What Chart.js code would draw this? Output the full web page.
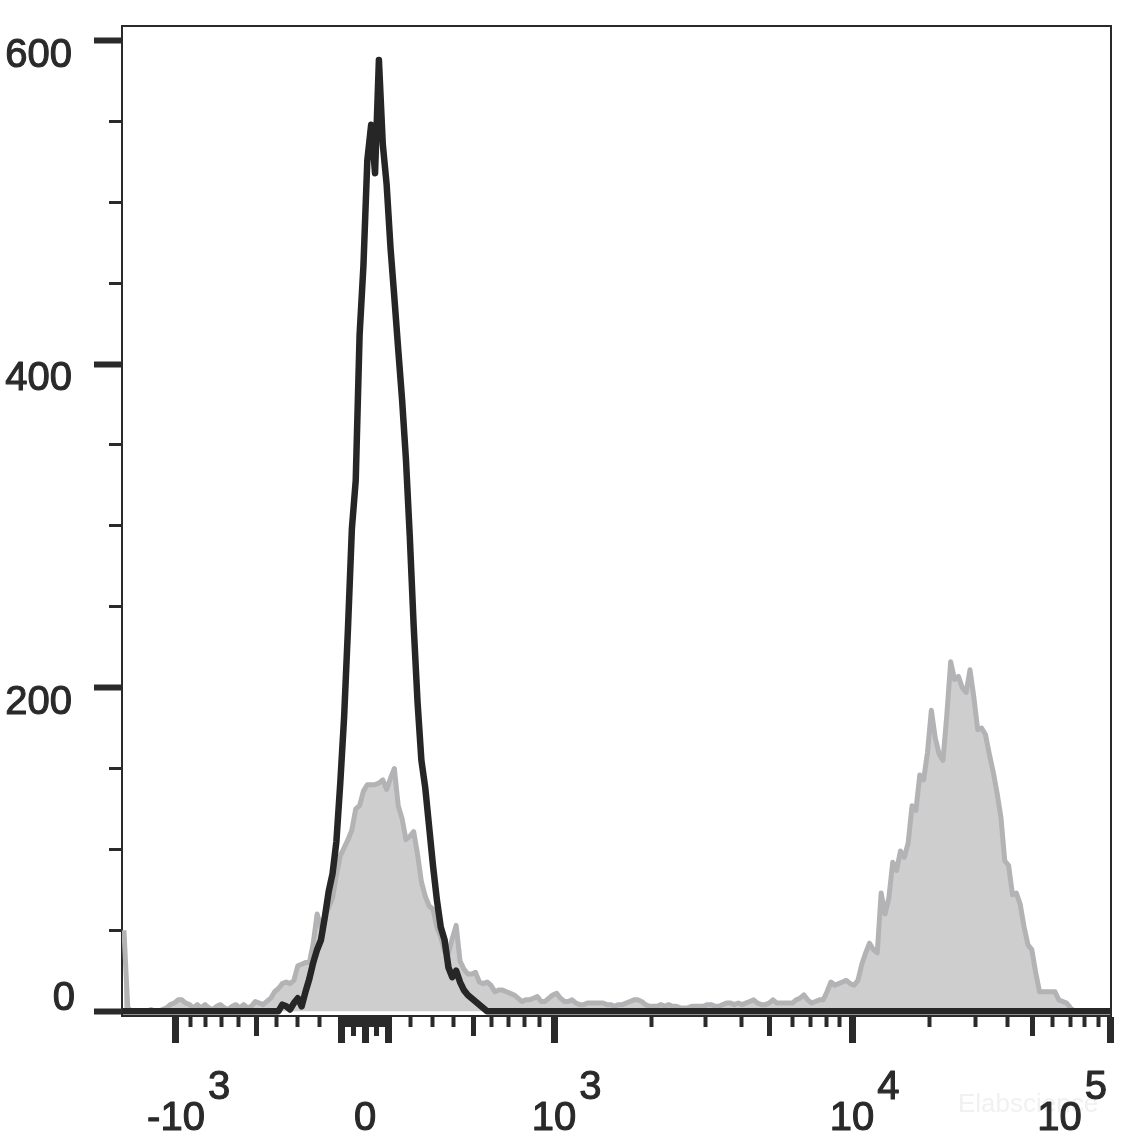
<!DOCTYPE html>
<html>
<head>
<meta charset="utf-8">
<script src="https://cdn.jsdelivr.net/npm/chart.js@4.4.1/dist/chart.umd.min.js"></script>
<style>
  html, body { margin: 0; padding: 0; background: #fff; }
</style>
</head>
<body>
<canvas id="histChart" width="1139" height="1140"></canvas>
<script>
// 256 histogram channels across the biexponential axis
const channels = Array.from({ length: 256 }, (_, i) => i);

const controlCounts = [
  0, 0, 0, 0, 0, 0, 0, 0, 0, 0, 0, 0, 0, 0, 0, 0,
  0, 0, 0, 0, 0, 0, 0, 0, 0, 0, 0, 0, 0, 0, 0, 0,
  0, 0, 0, 0, 0, 0, 0, 0, 0, 4, 3, 1, 5, 8, 3, 12,
  20, 30, 38, 44, 58, 74, 85, 105, 141, 182, 237, 298, 328, 418, 461, 526,
  548, 518, 588, 536, 511, 472, 441, 409, 378, 341, 293, 238, 191, 155, 138, 114,
  90, 69, 52, 44, 27, 21, 25, 18, 13, 10, 8, 6, 4, 2, 0, 0,
  0, 0, 0, 0, 0, 0, 0, 0, 0, 0, 0, 0, 0, 0, 0, 0,
  0, 0, 0, 0, 0, 0, 0, 0, 0, 0, 0, 0, 0, 0, 0, 0,
  0, 0, 0, 0, 0, 0, 0, 0, 0, 0, 0, 0, 0, 0, 0, 0,
  0, 0, 0, 0, 0, 0, 0, 0, 0, 0, 0, 0, 0, 0, 0, 0,
  0, 0, 0, 0, 0, 0, 0, 0, 0, 0, 0, 0, 0, 0, 0, 0,
  0, 0, 0, 0, 0, 0, 0, 0, 0, 0, 0, 0, 0, 0, 0, 0,
  0, 0, 0, 0, 0, 0, 0, 0, 0, 0, 0, 0, 0, 0, 0, 0,
  0, 0, 0, 0, 0, 0, 0, 0, 0, 0, 0, 0, 0, 0, 0, 0,
  0, 0, 0, 0, 0, 0, 0, 0, 0, 0, 0, 0, 0, 0, 0, 0,
  0, 0, 0, 0, 0, 0, 0, 0, 0, 0, 0, 0, 0, 0, 0, 0
];

const stainedCounts = [
  50, 2, 0, 0, 0, 0, 0, 1, 0, 0, 1, 2, 4, 5, 7, 7,
  5, 4, 2, 4, 2, 4, 2, 1, 3, 4, 2, 1, 3, 4, 2, 4,
  2, 3, 6, 5, 4, 6, 8, 12, 14, 17, 18, 17, 19, 28, 29, 30,
  30, 42, 60, 52, 59, 64, 70, 84, 96, 101, 106, 112, 125, 127, 136, 140,
  140, 140, 141, 143, 137, 144, 150, 127, 119, 106, 108, 111, 97, 80, 71, 65,
  63, 52, 46, 37, 36, 45, 53, 31, 26, 23, 23, 24, 18, 17, 18, 16,
  12, 13, 13, 12, 11, 10, 8, 6, 7, 7, 8, 9, 6, 6, 8, 10,
  11, 8, 6, 6, 7, 5, 4, 4, 5, 5, 5, 5, 5, 4, 4, 3,
  4, 4, 5, 6, 7, 7, 6, 4, 3, 3, 3, 4, 3, 4, 3, 3,
  2, 2, 2, 3, 3, 3, 3, 4, 4, 3, 3, 4, 5, 5, 4, 5,
  4, 5, 6, 7, 5, 4, 4, 5, 7, 5, 5, 5, 5, 5, 7, 8,
  10, 7, 5, 6, 7, 7, 12, 18, 16, 17, 18, 19, 17, 16, 19, 29,
  36, 42, 38, 36, 73, 60, 70, 92, 87, 99, 95, 104, 127, 124, 146, 143,
  160, 186, 169, 159, 155, 183, 216, 205, 207, 200, 197, 211, 194, 174, 175, 171,
  159, 148, 135, 120, 93, 90, 72, 73, 66, 52, 41, 38, 24, 12, 12, 12,
  12, 12, 7, 6, 5, 2, 0, 0, 0, 0, 0, 0, 0, 0, 0, 0
];

const yTickValues = [0, 50, 100, 150, 200, 250, 300, 350, 400, 450, 500, 550, 600];
const yLabelValues = [0, 200, 400, 600];

const xMajorTicks = [-1000, -100, 0, 100, 1000, 10000, 100000];
const xMidTicks = [-500, -50, 50, 500, 5000, 50000];
const xMinorTicks = [
  -900, -800, -700, -600, -400, -300, -200,
  -90, -80, -70, -60, -40, -30, -20, -10,
  10, 20, 30, 40, 60, 70, 80, 90,
  200, 300, 400, 600, 700, 800, 900,
  2000, 3000, 4000, 6000, 7000, 8000, 9000,
  20000, 30000, 40000, 60000, 70000, 80000, 90000
];

const xLabelValues = [-1000, 0, 1000, 10000, 100000];
const xLabelBases = ['-10', '0', '10', '10', '10'];
const xLabelExps = ['3', '', '3', '4', '5'];

const INK = '#2a2a2a';
const FONT = '"Liberation Sans", Arial, sans-serif';

// biexponential-ish display transform: linear-ish near zero, log in the decades
function toDisplay(v) {
  const a = Math.abs(v);
  let d;
  if (a <= 1000) {
    d = 168.7 * Math.asinh(a / 730);
  } else if (a <= 10000) {
    const f = Math.log10(a / 1000);
    d = 189 + 298 * (f + 0.12 * f * (1 - f));
  } else {
    d = 487 + 258 * Math.log10(a / 10000);
  }
  return v < 0 ? -d : d;
}

// display units -> channel index (0 sits 243 units in from the left of a 989 unit wide axis)
function toChannel(v) {
  return (toDisplay(v) + 243) * 256 / 989 - 0.5;
}

const xTicks = [
  ...xMajorTicks.map(v => ({ v, kind: 'major' })),
  ...xMidTicks.map(v => ({ v, kind: 'mid' })),
  ...xMinorTicks.map(v => ({ v, kind: 'minor' }))
].sort((a, b) => a.v - b.v);

const tickKind = ctx => (xTicks[ctx.index] || {}).kind;

// slightly heavier text, like the exported figure
function heavyText(ctx, txt, x, y) {
  ctx.fillText(txt, x, y);
  ctx.strokeText(txt, x, y);
}

const labelPlugin = {
  id: 'facsLabels',
  afterDraw(chart) {
    const { ctx, chartArea, scales } = chart;
    ctx.save();

    // top and right frame
    ctx.strokeStyle = INK;
    ctx.lineWidth = 2;
    ctx.beginPath();
    ctx.moveTo(chartArea.left, chartArea.top);
    ctx.lineTo(chartArea.right, chartArea.top);
    ctx.lineTo(chartArea.right, chartArea.bottom);
    ctx.stroke();

    // faint watermark
    ctx.font = '26px ' + FONT;
    ctx.fillStyle = '#f1f1f1';
    ctx.textAlign = 'left';
    ctx.textBaseline = 'alphabetic';
    ctx.fillText('Elabscience', 958, 1112);

    ctx.font = '40px ' + FONT;
    ctx.fillStyle = INK;
    ctx.strokeStyle = INK;
    ctx.lineWidth = 1.1;
    ctx.lineJoin = 'round';

    // y labels
    ctx.textAlign = 'right';
    yLabelValues.forEach(v => {
      const y = scales.y.getPixelForValue(v);
      if (v === 0) {
        heavyText(ctx, '0', 75, y - 1);
      } else {
        heavyText(ctx, String(v), 72, y + 26);
      }
    });

    // x labels with exponents
    ctx.textAlign = 'left';
    xLabelValues.forEach((v, i) => {
      const x = scales.x.getPixelForValue(toChannel(v));
      const base = xLabelBases[i];
      const exp = xLabelExps[i];
      const bw = ctx.measureText(base).width;
      const ew = exp ? ctx.measureText(exp).width + 3 : 0;
      let left = x - bw / 2;
      if (left + bw + ew > chart.width - 32) {
        left = chart.width - 32 - bw - ew;
      }
      heavyText(ctx, base, left, 1130);
      if (exp) heavyText(ctx, exp, left + bw + 3, 1099);
    });

    ctx.restore();
  }
};

new Chart(document.getElementById('histChart'), {
  type: 'line',
  data: {
    datasets: [
      {
        label: 'Control',
        data: channels.map((c, i) => ({ x: c, y: controlCounts[i] })),
        borderColor: '#262626',
        borderWidth: 6.5,
        borderJoinStyle: 'round',
        borderCapStyle: 'square',
        pointRadius: 0,
        tension: 0,
        fill: false
      },
      {
        label: 'Stained',
        data: channels.map((c, i) => ({ x: c, y: stainedCounts[i] })),
        borderColor: '#b3b3b6',
        backgroundColor: '#cecece',
        borderWidth: 5,
        borderJoinStyle: 'round',
        pointRadius: 0,
        tension: 0,
        fill: 'origin'
      }
    ]
  },
  options: {
    responsive: false,
    animation: false,
    devicePixelRatio: 1,
    layout: { padding: { left: 0, right: 28, top: 26, bottom: 0 } },
    plugins: {
      legend: { display: false },
      tooltip: { enabled: false }
    },
    scales: {
      x: {
        type: 'linear',
        min: -0.5,
        max: 255.5,
        afterBuildTicks: scale => {
          scale.ticks = xTicks.map(t => ({ value: toChannel(t.v) }));
        },
        afterFit: scale => { scale.height = 124; },
        ticks: { display: false, autoSkip: false },
        grid: {
          drawOnChartArea: false,
          drawTicks: true,
          tickLength: 27,
          tickColor: INK,
          tickWidth: ctx => {
            const k = tickKind(ctx);
            return k === 'major' ? 7 : k === 'mid' ? 5 : 4;
          },
          tickBorderDash: ctx => {
            const k = tickKind(ctx);
            return k === 'major' ? [] : k === 'mid' ? [19, 100] : [10, 100];
          }
        },
        border: { display: true, color: INK, width: 2 }
      },
      y: {
        type: 'linear',
        min: -3,
        max: 609,
        afterBuildTicks: scale => {
          scale.ticks = yTickValues.map(v => ({ value: v }));
        },
        afterFit: scale => { scale.width = 122; },
        ticks: { display: false, autoSkip: false },
        grid: {
          drawOnChartArea: false,
          drawTicks: true,
          tickLength: 28,
          tickColor: INK,
          tickWidth: ctx => (yTickValues[ctx.index] % 200 === 0 ? 6 : 3),
          tickBorderDash: ctx => (yTickValues[ctx.index] % 200 === 0 ? [] : [0, 15, 13, 0])
        },
        border: { display: true, color: INK, width: 2 }
      }
    }
  },
  plugins: [labelPlugin]
});
</script>
</body>
</html>
